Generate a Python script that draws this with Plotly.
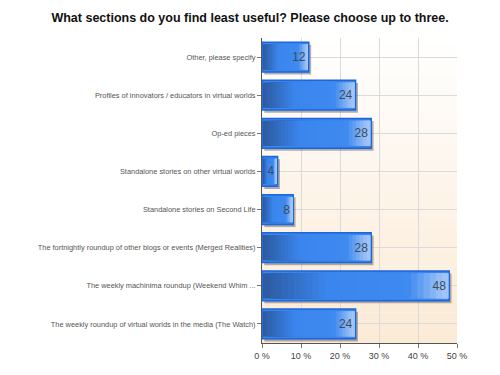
import plotly.graph_objects as go

categories = [
    "Other, please specify",
    "Profiles of innovators / educators in virtual worlds",
    "Op-ed pieces",
    "Standalone stories on other virtual worlds",
    "Standalone stories on Second Life",
    "The fortnightly roundup of other blogs or events (Merged Realities)",
    "The weekly machinima roundup (Weekend Whim ...",
    "The weekly roundup of virtual worlds in the media (The Watch)",
]
values = [12, 24, 28, 4, 8, 28, 48, 24]
x_ticks = [0, 10, 20, 30, 40, 50]
x_tick_labels = ["0 %", "10 %", "20 %", "30 %", "40 %", "50 %"]

FONT = "Arial, Liberation Sans, sans-serif"

fig = go.Figure()

# drop shadow
fig.add_trace(go.Bar(
    y=categories, x=values, orientation="h",
    marker=dict(color="rgba(80,80,80,0.45)", line=dict(width=0)),
    width=0.78, offset=-0.32, base=0.6,
    hoverinfo="skip", showlegend=False,
))

# main bar with border
fig.add_trace(go.Bar(
    y=categories, x=values, orientation="h",
    marker=dict(color="#3b86ee", line=dict(color="#1c66dc", width=1.5)),
    width=0.78, hoverinfo="skip", showlegend=False,
))

# horizontal gradient inside each bar (dark left -> blue -> light right)
stops = [(0.0, (44, 90, 160)), (0.35, (59, 134, 238)), (0.78, (62, 138, 240)),
         (0.97, (160, 196, 246)), (1.0, (160, 196, 246))]


def grad(t):
    for (a, ca), (b, cb) in zip(stops[:-1], stops[1:]):
        if a <= t <= b:
            u = (t - a) / (b - a) if b > a else 0
            return tuple(round(ca[k] + (cb[k] - ca[k]) * u) for k in range(3))
    return stops[-1][1]


nseg = 30
inset = 0.25
for i in range(nseg):
    f0 = i / nseg
    c = grad((i + 0.5) / nseg)
    bases = [inset + (v - 2 * inset) * f0 for v in values]
    lens = [(v - 2 * inset) * (1 - f0) for v in values]
    fig.add_trace(go.Bar(
        y=categories, x=lens, base=bases, orientation="h",
        marker=dict(color="rgb(%d,%d,%d)" % c, line=dict(width=0)),
        width=0.66, hoverinfo="skip", showlegend=False,
    ))

# value labels
fig.add_trace(go.Bar(
    y=categories, x=values, orientation="h",
    marker=dict(color="rgba(0,0,0,0)", line=dict(width=0)),
    width=0.78,
    text=[str(v) for v in values],
    textposition="inside", insidetextanchor="end",
    textfont=dict(family=FONT, size=12, color="#3d4b5e"),
    constraintext="none",
    showlegend=False,
))

# background gradient white -> peach
shapes = []
n = 40
top = (255, 255, 255)
bot = (251, 234, 213)
for i in range(n):
    t = (i + 0.5) / n
    c = tuple(round(top[k] + (bot[k] - top[k]) * t) for k in range(3))
    shapes.append(dict(
        type="rect", xref="x domain", yref="y domain",
        x0=0, x1=1, y0=1 - (i + 1) / n, y1=1 - i / n + 0.001,
        fillcolor="rgb(%d,%d,%d)" % c, line=dict(width=0), layer="below",
    ))

fig.update_layout(
    width=492, height=367,
    margin=dict(l=254, r=43, t=30, b=32),
    paper_bgcolor="white", plot_bgcolor="white",
    barmode="overlay",
    shapes=shapes,
    title=dict(
        text="<b>What sections do you find least useful? Please choose up to three.</b>",
        x=0.492, xanchor="center", xref="container", y=0.975, yanchor="middle",
        yref="container",
        font=dict(family=FONT, size=12.5, color="#111111"),
    ),
    xaxis=dict(
        range=[0, 50], tickmode="array", tickvals=x_ticks, ticktext=x_tick_labels,
        showgrid=True, gridcolor="#dadada", gridwidth=1,
        zeroline=False, showline=True, linecolor="#555555", linewidth=1,
        ticks="outside", ticklen=4, tickcolor="#777777",
        tickfont=dict(family=FONT, size=9, color="#444444"),
        fixedrange=True,
    ),
    yaxis=dict(
        categoryorder="array", categoryarray=categories, autorange="reversed",
        showgrid=True, gridcolor="#dadada", gridwidth=1,
        showline=True, linecolor="#555555", linewidth=1,
        ticks="outside", ticklen=4, tickcolor="#777777",
        tickfont=dict(family=FONT, size=7.4, color="#555555"),
        fixedrange=True,
    ),
)

fig.write_html("out.html")
